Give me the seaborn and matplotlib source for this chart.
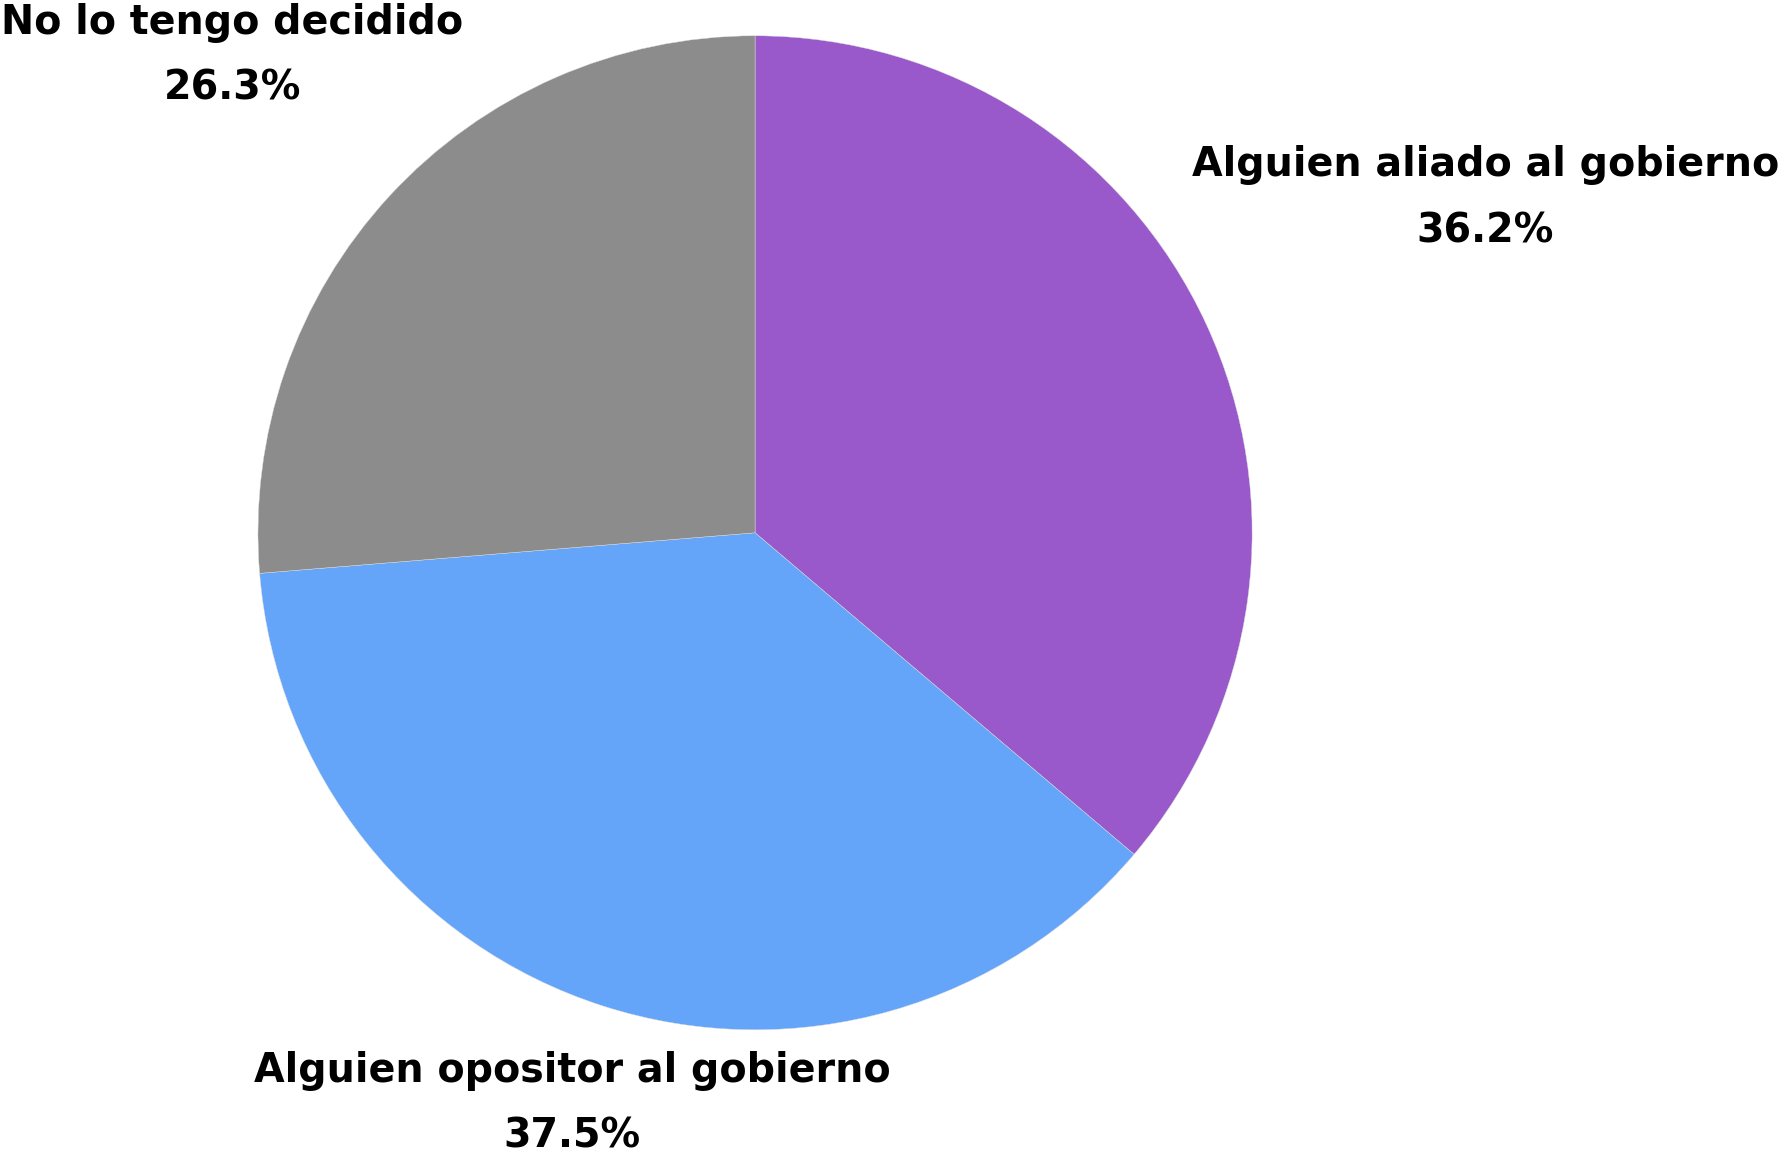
import matplotlib
matplotlib.use("Agg")
import matplotlib.pyplot as plt
import seaborn as sns

categories = ["Alguien aliado al gobierno", "Alguien opositor al gobierno", "No lo tengo decidido"]
values = [36.2, 37.5, 26.3]
colors = ["#9a59cb", "#64a5f9", "#8c8c8c"]

# label anchor points in data units (pie radius = 1)
label_x = [1.469, -0.368, -1.052]
label_y = [0.740, -1.082, 1.026]
line_gap = 0.133

sns.set_theme(style="white")
plt.rcParams['font.family'] = ['DejaVu Sans']

fig = plt.figure(figsize=(17.86, 11.6), dpi=100)
ax = fig.add_axes([0, 0, 1, 1])
ax.pie(values, colors=colors, startangle=90, counterclock=False,
       radius=1, center=(0, 0), wedgeprops=dict(linewidth=0.3, edgecolor="#dddddd"))
ax.set_xlim(-1.519, 2.074)
ax.set_ylim(-1.262, 1.072)
ax.set_aspect("auto")
ax.axis("off")

for name, v, x, y in zip(categories, values, label_x, label_y):
    ax.text(x, y, name, ha="center", va="center", fontsize=28.5, fontweight="heavy", color="black")
    ax.text(x, y - line_gap, f"{v:.1f}%", ha="center", va="center", fontsize=28.5, fontweight="heavy", color="black")

fig.savefig("out.png", dpi=100, facecolor="white")
